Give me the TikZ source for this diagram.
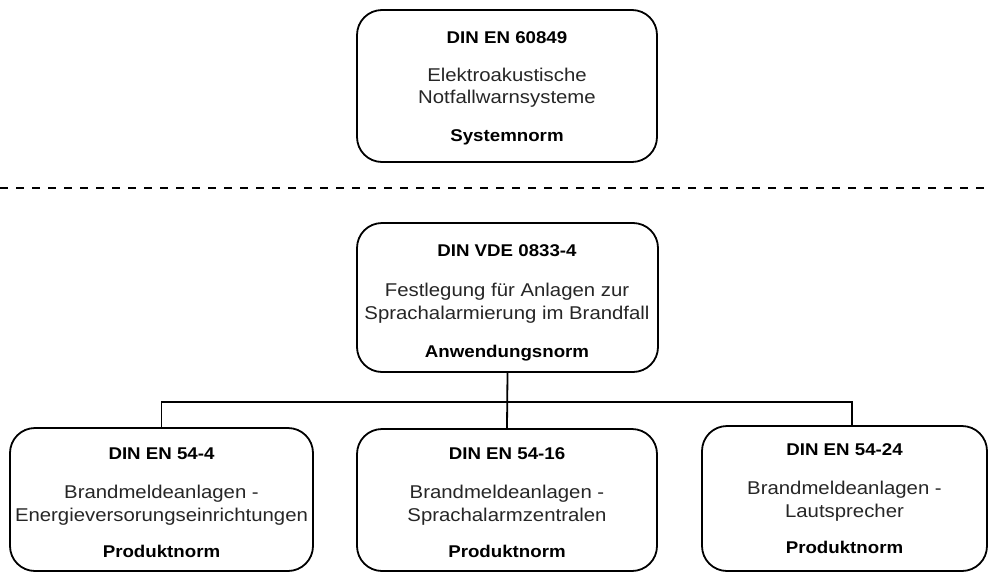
\documentclass[tikz,border=0pt]{standalone}
\usepackage{fontspec}
\setmainfont[FakeStretch=1.1]{Liberation Sans}
\begin{document}
\begin{tikzpicture}[x=1pt,y=-1pt,
  box/.style={draw, line width=1.8pt, rounded corners=25pt, inner sep=0pt},
  ttl/.style={anchor=base, font=\fontsize{17}{21}\selectfont\bfseries, inner sep=0pt},
  txt/.style={anchor=base, text=black!85, font=\fontsize{18.5}{22}\selectfont, inner sep=0pt},
  conn/.style={line width=1.8pt}]
\useasboundingbox (0,0) rectangle (991,573);
% boxes
\node[box, minimum width=300pt, minimum height=152pt] (top) at (507,86) {};
\node[box, minimum width=301pt, minimum height=149pt] (mid) at (507.5,297.5) {};
\node[box, minimum width=303pt, minimum height=143pt] (left) at (161.5,499.5) {};
\node[box, minimum width=300pt, minimum height=142pt] (center) at (507,500) {};
\node[box, minimum width=285pt, minimum height=145pt] (right) at (844.5,498.5) {};
% dashed separator
\coordinate (dl) at (0,188);
\coordinate (dr) at (991,188);
\draw[line width=2.4pt, dash pattern=on 8pt off 8pt] (dl) -- (dr);
% texts top
\node[ttl] (t1) at (507,43) {DIN EN 60849};
\node[txt] (t2) at (507,81) {Elektroakustische};
\node[txt] (t3) at (507,103) {Notfallwarnsysteme};
\node[ttl] (t4) at (507,141) {Systemnorm};
% texts mid
\node[ttl] (m1) at (507,256) {DIN VDE 0833-4};
\node[txt] (m2) at (507,296) {Festlegung für Anlagen zur};
\node[txt] (m3) at (507,319) {Sprachalarmierung im Brandfall};
\node[ttl] (m4) at (507,357) {Anwendungsnorm};
% texts left
\node[ttl] (l1) at (161.5,459) {DIN EN 54-4};
\node[txt] (l2) at (161.5,498) {Brandmeldeanlagen -};
\node[txt] (l3) at (161.5,521) {Energieversorungseinrichtungen};
\node[ttl] (l4) at (161.5,557) {Produktnorm};
% texts center
\node[ttl] (c1) at (507,459) {DIN EN 54-16};
\node[txt] (c2) at (507,498) {Brandmeldeanlagen -};
\node[txt] (c3) at (507,521) {Sprachalarmzentralen};
\node[ttl] (c4) at (507,557) {Produktnorm};
% texts right
\node[ttl] (r1) at (844.5,455) {DIN EN 54-24};
\node[txt] (r2) at (844.5,494) {Brandmeldeanlagen -};
\node[txt] (r3) at (844.5,517) {Lautsprecher};
\node[ttl] (r4) at (844.5,553) {Produktnorm};
% connectors
\coordinate (busL) at (161.5,402);
\coordinate (busR) at (852,402);
\coordinate (rdrop) at (852,426);
\draw[conn] (mid.south) -- (center.north);
\draw[conn] (left.north) -- (busL) -- (busR) -- (rdrop);
\end{tikzpicture}
\end{document}
